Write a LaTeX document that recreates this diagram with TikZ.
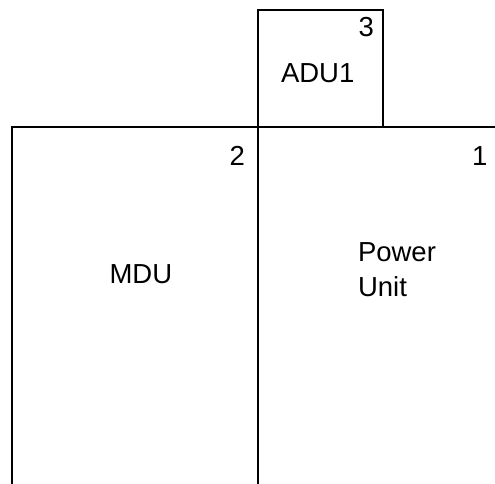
\documentclass[tikz,border=0pt]{standalone}
\usepackage{fontspec}
\setmainfont{Liberation Sans}
\usepackage{tikz}
\usetikzlibrary{positioning}

\begin{document}
\begin{tikzpicture}[x=1pt,y=-1pt,font=\fontsize{27.5}{33}\selectfont,line width=2pt,
  lbl/.style={inner sep=0pt,outer sep=0pt}]
  \useasboundingbox (0,0) rectangle (495,484);
  % walls of the plan
  \coordinate (tl) at (12,127);
  \coordinate (bl) at (12,484);
  \coordinate (tr) at (495,127);
  \coordinate (mt) at (258,10);
  \coordinate (mb) at (258,484);
  \coordinate (at) at (383,10);
  \coordinate (ab) at (383,127);
  \draw (bl)--(tl)--(tr);
  \draw (mb)--(mt)--(at)--(ab);
  % labels
  \node[lbl,anchor=base east](n3) at (374,36.7){3};
  \node[lbl,anchor=base west](adu) at (281,82.3){ADU1};
  \node[lbl,anchor=base east](n2) at (245,165.7){2};
  \node[lbl,anchor=base west](n1) at (472,165){1};
  \node[lbl,anchor=base west](mdu) at (109.5,283.3){MDU};
  \node[lbl,anchor=base west](power) at (358,261.7){Power};
  \node[lbl,anchor=base west](unit) at (358,296.7){Unit};
\end{tikzpicture}
\end{document}
